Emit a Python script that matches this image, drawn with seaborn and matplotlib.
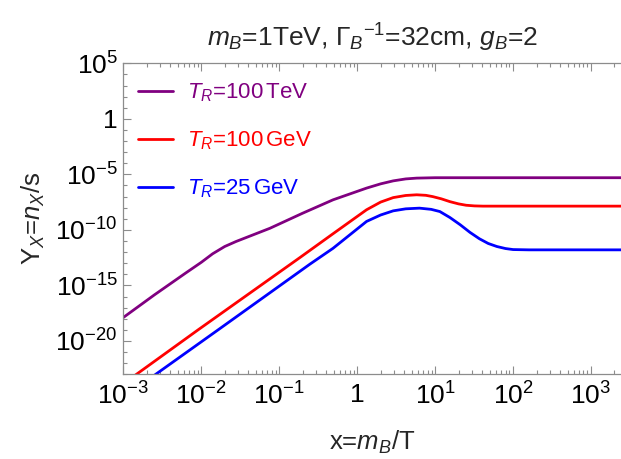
import numpy as np
import pandas as pd
import matplotlib
matplotlib.use('Agg')
import matplotlib.pyplot as plt
import seaborn as sns
from matplotlib.ticker import FixedLocator, FuncFormatter, NullFormatter

# curve values (x = m_B/T, Y = n_X/s)
x_100tev = [1.0e-3, 2.5e-3, 6.3e-3, 1.0e-2, 1.4e-2, 2.0e-2, 2.8e-2, 7.6e-2, 0.20, 0.49, 1.32,
            2.0, 2.9, 4.2, 5.8, 10, 20, 2500]
y_100tev = [1.3e-18, 1.4e-16, 1.3e-14, 1.2e-13, 7.1e-13, 3.2e-12, 9.1e-12, 1.4e-10, 3.2e-9, 5.1e-8, 5.8e-7,
            1.4e-6, 2.6e-6, 3.9e-6, 4.6e-6, 5.0e-6, 5.0e-6, 5.0e-6]

x_100gev = [1.26e-3, 9.1e-3, 0.184, 0.49, 1.32, 2.0, 2.9, 4.2, 5.8, 7.6, 9.3,
            12, 15.5, 20, 25, 32, 41, 2500]
y_100gev = [4.5e-24, 1.0e-19, 3.2e-13, 4.5e-11, 6.5e-9, 3.2e-8, 8.1e-8, 1.26e-7, 1.45e-7, 1.3e-7, 1.0e-7,
            6.3e-8, 3.5e-8, 2.2e-8, 1.66e-8, 1.45e-8, 1.38e-8, 1.38e-8]

x_25gev = [2.24e-3, 1.66e-2, 0.248, 0.49, 1.32, 2.0, 2.9, 4.2, 6.3, 8.9, 11.5,
           15.5, 21, 28, 37, 48, 62, 80, 100, 160, 2500]
y_25gev = [4.7e-24, 1.05e-19, 8.3e-14, 2.2e-12, 5.8e-10, 2.2e-9, 5.2e-9, 7.9e-9, 9.1e-9, 7.1e-9, 4.5e-9,
           1.3e-9, 2.9e-10, 6.0e-11, 1.6e-11, 6.0e-12, 3.2e-12, 2.1e-12, 1.7e-12, 1.6e-12, 1.6e-12]

labels = [r'$T_R$=100$\,$TeV', r'$T_R$=100$\,$GeV', r'$T_R$=25$\,$GeV']
colors = ['#800080', '#ff0000', '#0000ff']

df = pd.concat([
    pd.DataFrame({'x': x_100tev, 'y': y_100tev, 'case': labels[0]}),
    pd.DataFrame({'x': x_100gev, 'y': y_100gev, 'case': labels[1]}),
    pd.DataFrame({'x': x_25gev, 'y': y_25gev, 'case': labels[2]}),
])

sns.set_theme(style='ticks')
plt.rcParams['font.family'] = ['Liberation Sans', 'DejaVu Sans']
plt.rcParams['mathtext.fontset'] = 'custom'
plt.rcParams['mathtext.rm'] = 'Liberation Sans'
plt.rcParams['mathtext.it'] = 'Liberation Sans:italic'
plt.rcParams['mathtext.bf'] = 'Liberation Sans:bold'

fig = plt.figure(figsize=(6.21, 4.59), dpi=100)
ax = fig.add_axes([123.3 / 621, (459 - 374.3) / 459, (621 - 123.3) / 621, (374.3 - 63.3) / 459])

sns.lineplot(data=df, x='x', y='y', hue='case', palette=dict(zip(labels, colors)),
             linewidth=2.0, sort=False, estimator=None, ax=ax, legend=False)

ax.set_xscale('log')
ax.set_yscale('log')
ax.set_xlim(1e-3, 10 ** (3 + 30 / 78))
ax.set_ylim(1e-23, 1e5)

# frame in Mathematica style: gray, ticks pointing in
gray = '#8c8c8c'
for side in ['left', 'bottom', 'top']:
    ax.spines[side].set_color(gray)
    ax.spines[side].set_linewidth(0.9)
ax.spines['right'].set_visible(False)


def pow_fmt(v, pos):
    e = int(round(np.log10(v)))
    if e == 0:
        return '1'
    return r'$10^{%d}$' % e


ax.xaxis.set_major_locator(FixedLocator([10.0 ** k for k in range(-3, 4)]))
ax.xaxis.set_minor_locator(FixedLocator([m * 10.0 ** k for k in range(-3, 4) for m in range(2, 10)]))
ax.yaxis.set_major_locator(FixedLocator([10.0 ** k for k in range(-20, 6, 5)]))
ax.yaxis.set_minor_locator(FixedLocator([10.0 ** k for k in range(-23, 6)]))
ax.xaxis.set_major_formatter(FuncFormatter(pow_fmt))
ax.yaxis.set_major_formatter(FuncFormatter(pow_fmt))
ax.xaxis.set_minor_formatter(NullFormatter())
ax.yaxis.set_minor_formatter(NullFormatter())

ax.tick_params(which='both', direction='in', color=gray, width=0.8, top=True, right=False,
               labelsize=19, labelcolor='black')
ax.tick_params(which='major', length=6)
ax.tick_params(which='minor', length=3)
ax.tick_params(axis='x', which='major', pad=6)
ax.tick_params(axis='y', which='major', pad=4)

ax.set_xlabel(r'x=$m_B$/T', fontsize=18.5, labelpad=14)
ax.set_ylabel(r'Y$_X$=$n_X$/s', fontsize=18.5, labelpad=6)
ax.set_title(r'$m_B$=1TeV, $\Gamma_B{}^{-1}$=32cm, $g_B$=2', fontsize=19, pad=12)

handles = [plt.Line2D([], [], color=c, linewidth=2.0) for c in colors]
ax.legend(handles, labels, loc='upper left', bbox_to_anchor=(0.012, 0.97), frameon=False,
          fontsize=16, labelcolor=colors, handlelength=1.58, handletextpad=0.63,
          labelspacing=1.15, borderaxespad=0)

fig.savefig('out.png', dpi=100)
